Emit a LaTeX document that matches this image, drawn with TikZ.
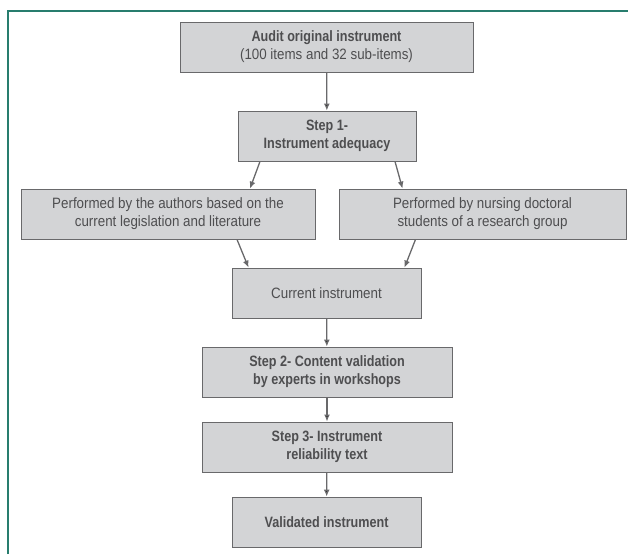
\documentclass[tikz,border=0pt]{standalone}
\usepackage{fontspec}
\setmainfont[FakeStretch=0.89, BoldFeatures={FakeStretch=0.84}]{Liberation Sans}
\usetikzlibrary{arrows.meta}
\definecolor{boxgray}{RGB}{211,212,214}
\definecolor{linegray}{RGB}{105,105,107}
\definecolor{textgray}{RGB}{78,78,80}
\definecolor{framegreen}{RGB}{40,125,110}

\begin{document}
\begin{tikzpicture}[x=1pt, y=-1pt,
            every node/.style={rectangle, draw=linegray, fill=boxgray, line width=0.9pt,
                text=textgray, align=center, inner sep=0pt, minimum height=50pt,
                font=\fontsize{15}{18}\selectfont},
            edge_style/.style={draw=linegray, line width=1.3pt}]
            \tikzset{down arrow/.style={edge_style, -{Latex[length=7pt,width=6pt]}}}
            \useasboundingbox (0,0) rectangle (628,554);
            \draw [framegreen, line width=2pt] (8,554) -- (8,11) -- (628,11);
            \node [minimum width=293pt] (audit) at (326.5, 47) {\textbf{Audit original instrument}\\(100 items and 32 sub-items)};
            \node [minimum width=178pt] (step1) at (327, 136) {\textbf{Step 1-}\\\textbf{Instrument adequacy}};
            \node [minimum width=294pt] (authors) at (168, 214) {Performed by the authors based on the\\current legislation and literature};
            \node [minimum width=287pt] (nursing) at (482.5, 214) {Performed by nursing doctoral\\students of a research group};
            \node [minimum width=189pt] (current) at (326.5, 293) {Current instrument};
            \node [minimum width=250pt] (step2) at (327, 372) {\textbf{Step 2- Content validation}\\\textbf{by experts in workshops}};
            \node [minimum width=250pt] (step3) at (327, 447) {\textbf{Step 3- Instrument}\\\textbf{reliability text}};
            \node [minimum width=189pt] (valid) at (326.5, 522) {\textbf{Validated instrument}};
            \draw [down arrow] (audit) edge (step1);
            \draw [down arrow] ([xshift=-67]step1.south) -- ([xshift=82]authors.north);
            \draw [down arrow] ([xshift=68]step1.south) -- ([xshift=-80]nursing.north);
            \draw [down arrow] ([xshift=69]authors.south) -- ([xshift=-78]current.north);
            \draw [down arrow] ([xshift=-67]nursing.south) -- ([xshift=78]current.north);
            \draw [down arrow] (current) edge (step2);
            \draw [down arrow] (step2) edge (step3);
            \draw [down arrow] (step3) edge (valid);
        \end{tikzpicture}
\end{document}
